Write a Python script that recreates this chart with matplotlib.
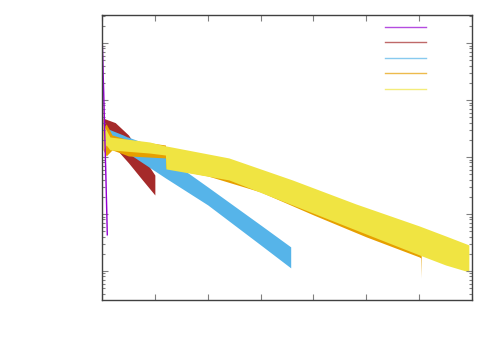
import numpy as np
import matplotlib
matplotlib.use("Agg")
import matplotlib.pyplot as plt
from matplotlib.lines import Line2D
from matplotlib.ticker import LogLocator, NullFormatter, MultipleLocator

# band data (x, upper, lower) for each run
purple_x = [0.0, 0.02, 0.04, 0.06, 0.08, 0.10]
purple_y = [1.5, 0.34, 0.067, 0.013, 0.0026, 0.00043]

red_x = [0.02, 0.25, 0.5, 0.75, 1.0]
red_hi = [0.048, 0.040, 0.0243, 0.0108, 0.0048]
red_lo = [0.027, 0.0144, 0.0079, 0.0041, 0.00215]

blue_x = [0.02, 0.4, 0.48, 0.49, 0.8, 1.2, 2.0, 3.0, 3.57]
blue_hi = [0.0336, 0.0243, 0.0224, 0.0224, 0.0176, 0.0100, 0.00298, 0.00064, 0.000264]
blue_lo = [0.0243, 0.0162, 0.0150, 0.0117, 0.00754, 0.00428, 0.00144, 0.000286, 0.000113]

orange_x = [0.0, 0.02, 0.08, 0.19, 0.5, 1.2, 1.21, 2.0, 3.0, 4.0, 5.0, 6.0, 6.03, 6.04]
orange_hi = [0.62, 0.0323, 0.0379, 0.0243, 0.0199, 0.0162, 0.0133, 0.00817, 0.00395,
             0.00176, 0.000785, 0.000379, 0.00035, 0.000169]
orange_lo = [0.41, 0.0133, 0.0104, 0.0133, 0.0104, 0.0096, 0.0064, 0.00464, 0.00243,
             0.00096, 0.000395, 0.000176, 0.000169, 0.000075]

yellow_x = [0.0, 0.02, 0.08, 0.15, 0.9, 1.2, 1.21, 2.4, 3.6, 4.8, 6.0, 6.5, 6.94]
yellow_hi = [0.75, 0.0364, 0.0298, 0.0224, 0.0183, 0.0156, 0.0156, 0.0096, 0.00395,
             0.0015, 0.000616, 0.000411, 0.000286]
yellow_lo = [0.50, 0.0133, 0.0162, 0.0133, 0.0117, 0.0108, 0.00616, 0.00395, 0.00144,
             0.000524, 0.000191, 0.000127, 0.000096]

colors = ["#9400d3", "#a52a2a", "#56b4e9", "#e69f00", "#f0e442"]

fig = plt.figure(figsize=(5, 3.5), dpi=100)
ax = fig.add_axes([0.204, 0.143, 0.74, 0.814])

ax.plot(purple_x, purple_y, color=colors[0], lw=1)
ax.fill_between(purple_x, np.array(purple_y) * 0.8, np.array(purple_y) * 1.25,
                color=colors[0], alpha=0.35, lw=0)
ax.fill_between(red_x, red_lo, red_hi, color=colors[1], lw=0)
ax.fill_between(blue_x, blue_lo, blue_hi, color=colors[2], lw=0)
ax.fill_between(orange_x, orange_lo, orange_hi, color=colors[3], lw=0)
ax.fill_between(yellow_x, yellow_lo, yellow_hi, color=colors[4], lw=0)

ax.set_yscale("log")
ax.set_xlim(0, 7)
ax.set_ylim(10 ** -4.51, 10 ** 0.49)
ax.xaxis.set_major_locator(MultipleLocator(1))
ax.yaxis.set_major_locator(LogLocator(base=10))
ax.yaxis.set_minor_locator(LogLocator(base=10, subs=np.arange(2, 10)))
ax.yaxis.set_minor_formatter(NullFormatter())
ax.tick_params(which="both", direction="in", top=True, right=True,
               labelleft=False, labelbottom=False, color="#808080", width=0.8)
ax.tick_params(which="major", length=4)
ax.tick_params(which="minor", length=2)
for s in ax.spines.values():
    s.set_color("#404040")
    s.set_linewidth(1)

handles = [Line2D([], [], color=c, lw=1, alpha=0.7) for c in colors]
ax.legend(handles, [" "] * 5, loc="upper left", bbox_to_anchor=(0.765, 0.978),
          frameon=False, fontsize=9, handlelength=3.3, labelspacing=0.2,
          borderpad=0, borderaxespad=0)

fig.savefig("out.png", dpi=100)
